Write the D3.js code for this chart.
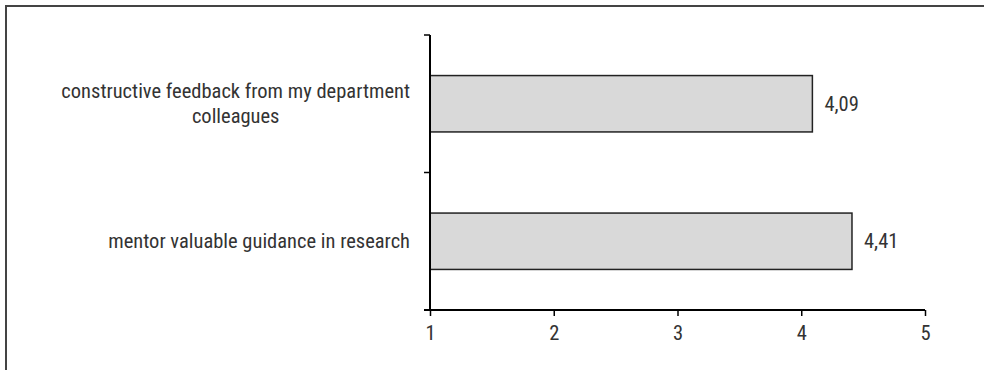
<!DOCTYPE html>
<html>
<head>
<meta charset="utf-8">
<script src="https://cdn.jsdelivr.net/npm/d3@7"></script>
<style>
  body { margin: 0; background: #fff; }
  text { font-family: "Liberation Sans Narrow", "Roboto Condensed", "Liberation Sans", sans-serif; fill: #333; }
</style>
</head>
<body>
<svg id="chart" width="984" height="370"></svg>
<script>
// category labels (lines for wrapped labels) and values
var categories = [
    ["constructive feedback from my department", "colleagues"],
    ["mentor valuable guidance in research"]
];
var values = [4.09, 4.41];
var valueLabels = ["4,09", "4,41"];
var xTicks = [1, 2, 3, 4, 5];

var svg = d3.select("#chart");
var fontSize = 20.5;

// outer frame, cropped at right and bottom
svg.append("rect")
    .attr("x", 6).attr("y", 6)
    .attr("width", 1000).attr("height", 400)
    .attr("fill", "none")
    .attr("stroke", "#444")
    .attr("stroke-width", 2);

var plotLeft = 430, plotRight = 925, plotTop = 35, plotBottom = 310;

var x = d3.scaleLinear().domain([1, 5]).range([plotLeft, plotRight]);
var y = d3.scaleBand()
    .domain(d3.range(categories.length))
    .range([plotTop, plotBottom])
    .paddingInner(0.59)
    .paddingOuter(0.295);

// bars
svg.append("g")
    .selectAll("rect")
    .data(values)
    .enter().append("rect")
    .attr("x", x(1))
    .attr("y", function(d, i) { return y(i); })
    .attr("width", function(d) { return x(d) - x(1); })
    .attr("height", y.bandwidth())
    .attr("fill", "#d9d9d9")
    .attr("stroke", "#222")
    .attr("stroke-width", 1.5);

// value labels
svg.append("g")
    .selectAll("text")
    .data(values)
    .enter().append("text")
    .attr("x", function(d) { return x(d) + 12; })
    .attr("y", function(d, i) { return y(i) + y.bandwidth() / 2; })
    .attr("dy", "0.35em")
    .attr("font-size", fontSize)
    .text(function(d, i) { return valueLabels[i]; });

// x axis
var xAxis = svg.append("g")
    .attr("transform", "translate(0," + plotBottom + ")")
    .call(d3.axisBottom(x).tickValues(xTicks).tickSize(6).tickPadding(9)
        .tickFormat(d3.format("d")).tickSizeOuter(0));
xAxis.attr("font-size", fontSize).attr("font-family", null);
xAxis.select(".domain").attr("stroke", "#000").attr("stroke-width", 2)
    .attr("d", "M" + (plotLeft - 6) + ",0H" + plotRight);
xAxis.selectAll(".tick line").attr("stroke", "#000").attr("stroke-width", 1.5);
xAxis.selectAll(".tick text").attr("fill", "#333");

// y axis line with tick marks at band boundaries
svg.append("line")
    .attr("x1", plotLeft).attr("x2", plotLeft)
    .attr("y1", plotTop).attr("y2", plotBottom)
    .attr("stroke", "#000").attr("stroke-width", 2);
var boundaries = [plotTop].concat(categories.map(function(c, i) {
    return y(i) + y.bandwidth() + y.step() * y.paddingInner() / 2;
}));
svg.append("g")
    .selectAll("line")
    .data(boundaries)
    .enter().append("line")
    .attr("x1", plotLeft - 6).attr("x2", plotLeft)
    .attr("y1", function(d) { return d; })
    .attr("y2", function(d) { return d; })
    .attr("stroke", "#000").attr("stroke-width", 1.5);

// category labels: lines centered on the widest line, right edge at 410
var labelRight = 410, lineH = 25;
categories.forEach(function(lines, i) {
    var g = svg.append("g");
    var cy = y(i) + y.bandwidth() / 2;
    var texts = lines.map(function(l, j) {
        return g.append("text")
            .attr("font-size", fontSize)
            .attr("text-anchor", "middle")
            .attr("y", cy + (j - (lines.length - 1) / 2) * lineH)
            .attr("dy", "0.35em")
            .text(l);
    });
    var w = d3.max(texts, function(t) { return t.node().getComputedTextLength(); });
    texts.forEach(function(t) { t.attr("x", labelRight - w / 2); });
});
</script>
</body>
</html>
